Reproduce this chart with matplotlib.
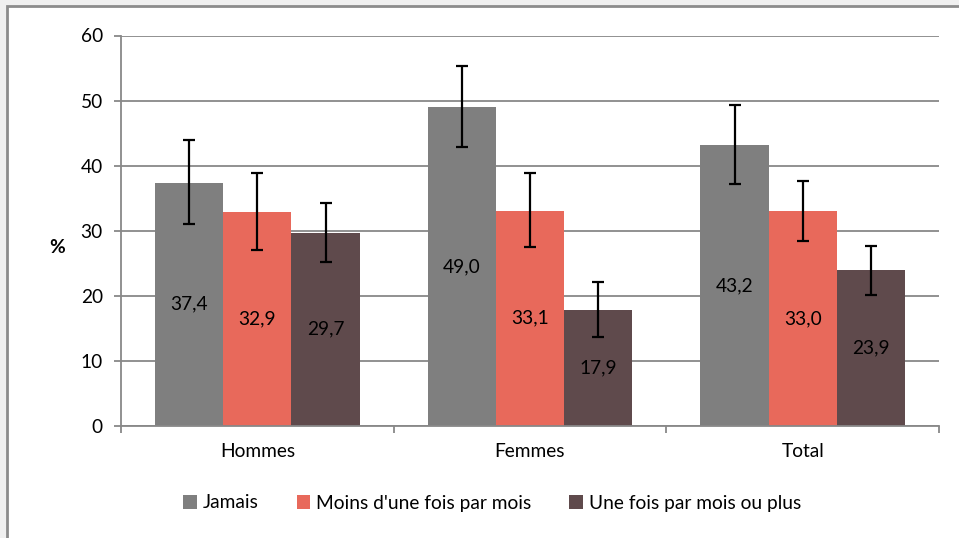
import matplotlib.pyplot as plt
import numpy as np
from matplotlib.patches import Rectangle

plt.rcParams['font.family'] = ['Lato', 'DejaVu Sans']

# data
groups = ['Hommes', 'Femmes', 'Total']
series = ['Jamais', "Moins d'une fois par mois", 'Une fois par mois ou plus']
values = {
    'Jamais': [37.4, 49.0, 43.2],
    "Moins d'une fois par mois": [32.9, 33.1, 33.0],
    'Une fois par mois ou plus': [29.7, 17.9, 23.9],
}
ci_low = {
    'Jamais': [31.0, 42.8, 37.2],
    "Moins d'une fois par mois": [27.0, 27.5, 28.5],
    'Une fois par mois ou plus': [25.2, 13.7, 20.1],
}
ci_high = {
    'Jamais': [43.9, 55.3, 49.3],
    "Moins d'une fois par mois": [38.9, 38.8, 37.6],
    'Une fois par mois ou plus': [34.2, 22.2, 27.7],
}
colors = ['#7f7f7f', '#e8695b', '#5f4a4c']
fs = 13.8

W, H = 959, 538
fig = plt.figure(figsize=(W / 100, H / 100), dpi=100, facecolor='#f0f0f0')
# white chart area with gray frame
fig.patches.append(Rectangle((7 / W, -0.05), 1.1, (H - 6) / H + 0.05,
                             transform=fig.transFigure, facecolor='white',
                             edgecolor='#8c8c8c', linewidth=2, zorder=-5))

ax = fig.add_axes([121 / W, 1 - 426 / H, (939 - 121) / W, (426 - 35.5) / H], zorder=2)
ax.set_facecolor('none')

x = np.arange(len(groups))
bw = 0.25
for i, s in enumerate(series):
    pos = x + (i - 1) * bw
    v = np.array(values[s])
    lo = v - np.array(ci_low[s])
    hi = np.array(ci_high[s]) - v
    ax.bar(pos, v, bw, color=colors[i], zorder=2, label=s)
    ax.errorbar(pos, v, yerr=[lo, hi], fmt='none', ecolor='black',
                elinewidth=1.6, capsize=4, capthick=1.6, zorder=3)
    for p, val in zip(pos, v):
        ax.text(p, val / 2, f'{val:.1f}'.replace('.', ','), ha='center',
                va='center', fontsize=fs, color='black', zorder=4)

ax.set_xlim(-0.5, 2.5)
ax.set_ylim(0, 60)
ax.set_yticks(range(0, 61, 10))
ax.grid(axis='y', color='#888888', linewidth=1.3, zorder=0)
ax.set_axisbelow(True)

ax.set_xticks(x)
ax.set_xticklabels(groups)
ax.set_xticks([-0.5, 0.5, 1.5, 2.5], minor=True)
ax.tick_params(axis='x', which='major', length=0, pad=12, labelsize=fs)
ax.tick_params(axis='x', which='minor', length=5, width=1.3, color='#888888')
ax.tick_params(axis='y', length=5, width=1.3, color='#888888', pad=8, labelsize=fs)

for side in ['top', 'right']:
    ax.spines[side].set_visible(False)
for side in ['left', 'bottom']:
    ax.spines[side].set_color('#888888')
    ax.spines[side].set_linewidth(1.3)

fig.text(57 / W, 1 - 248 / H, '%', fontsize=fs, fontweight='bold',
         ha='center', va='center')

fig.legend(loc='center', bbox_to_anchor=(492 / W, 1 - 503 / H), ncol=3,
           frameon=False, fontsize=fs, handlelength=0.7, handleheight=0.7,
           handletextpad=0.3, columnspacing=2.0)

fig.savefig('out.png', dpi=100, facecolor=fig.get_facecolor())
